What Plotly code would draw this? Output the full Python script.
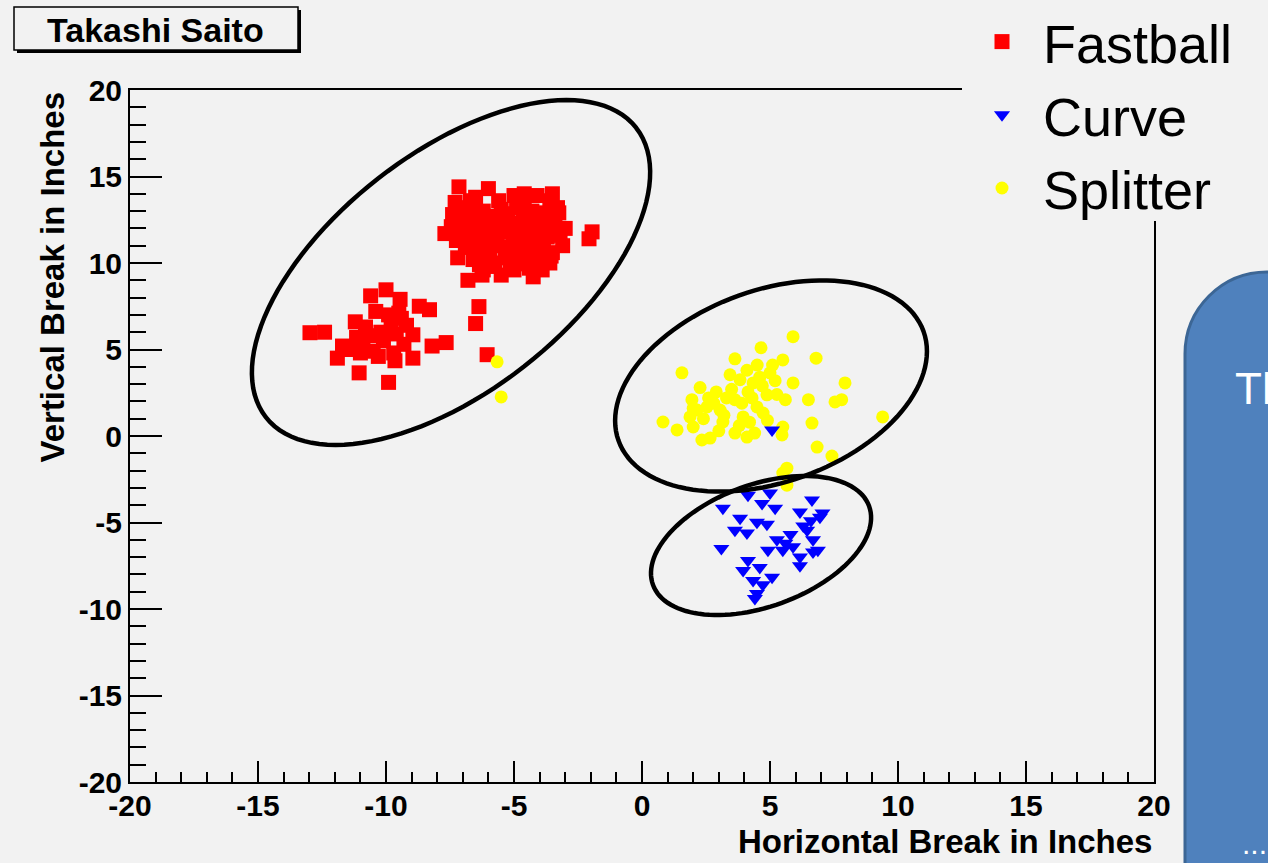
import math
import plotly.graph_objects as go

# ---------------- data ----------------
fast_x = [-7.15, -6.0, -3.5, -4.1, -5.0, -6.5, -7.3, -7.4, -7.7, -3.2, -1.95, -2.07, -7.2, -6.8,
          -6.25, -5.5, -4.25, -3.9, -3.5, -3.4, -3.3, -4.6, -5.6,
          -6.8, -6.2, -5.5, -4.9, -4.3, -3.8,
          -7.0, -6.5, -5.9, -5.3, -4.7, -4.1, -3.6,
          -7.1, -6.6, -6.0, -5.4, -4.8, -4.2, -3.7,
          -6.9, -6.3, -5.7, -5.1, -4.5, -3.9,
          -6.6, -6.0, -5.3, -4.7, -4.1, -3.6,
          -6.2, -5.0, -4.4, -5.8,
          -5.6, -5.0, -4.5, -6.4, -3.9, -5.2, -4.6, -6.7, -3.6, -3.0, -3.1,
          -6.95, -6.45, -5.85, -5.25, -4.65, -4.05, -3.45,
          -6.75, -6.15, -5.55, -4.95, -4.35, -3.75, -3.25,
          -6.85, -6.25, -5.65, -5.05, -4.45, -3.85, -3.35,
          -6.55, -5.95, -5.35, -4.75, -4.15, -3.55,
          -6.35, -5.75, -5.15, -4.55, -3.95, -7.45, -7.25,
          -12.97, -12.4, -11.9, -11.7, -11.05, -9.9, -10.6, -10.0, -9.45, -8.7, -8.3, -8.95,
          -8.95, -9.65, -8.2, -7.65, -11.2, -11.15, -10.5, -9.8, -9.5, -10.8, -10.3, -11.4,
          -10.1, -9.3, -10.4, -9.9, -9.2, -10.9, -10.2, -9.6, -11.0, -9.7, -10.6, -9.4,
          -6.37, -6.5, -6.05]
fast_y = [14.4, 14.3, 14.0, 13.9, 13.9, 13.8, 13.5, 12.8, 11.7, 11.8, 11.8, 11.4, 10.3, 9.0,
          9.3, 9.3, 9.2, 9.6, 10.6, 12.5, 13.2, 14.0, 13.6,
          13.2, 13.0, 13.1, 13.2, 13.0, 12.9,
          12.3, 12.4, 12.2, 12.5, 12.3, 12.4, 12.2,
          11.6, 11.7, 11.5, 11.8, 11.6, 11.7, 11.5,
          10.9, 10.8, 11.0, 10.9, 10.8, 10.9,
          10.2, 10.1, 10.3, 10.1, 10.3, 10.0,
          9.6, 9.6, 9.7, 9.8,
          12.0, 11.3, 12.8, 11.2, 11.2, 10.6, 13.5, 13.6, 13.6, 12.0, 11.0,
          12.75, 12.8, 12.7, 12.85, 12.7, 12.75, 12.7,
          11.95, 12.0, 11.9, 12.05, 11.95, 12.0, 12.9,
          11.15, 11.2, 11.25, 11.15, 11.2, 11.15, 11.6,
          10.45, 10.5, 10.5, 10.45, 10.5, 10.4,
          9.9, 10.0, 9.8, 9.95, 9.7, 12.1, 11.3,
          5.97, 6.0, 4.5, 5.2, 3.65, 3.1, 8.1, 8.45, 7.9, 7.5, 7.3, 5.85,
          4.5, 4.35, 5.2, 5.4, 6.6, 5.7, 4.9, 6.3, 7.1, 6.3, 4.6, 5.0,
          5.5, 5.3, 7.2, 7.0, 6.4, 5.4, 6.0, 5.9, 4.8, 4.8, 5.8, 6.8,
          7.48, 6.5, 4.7]

curve_x = [4.14, 5.0, 3.16, 4.69, 5.2, 6.64, 3.83, 4.49, 4.88, 6.17, 6.95, 7.05, 3.63, 4.1,
           3.1, 5.27, 5.8, 6.45, 6.68, 4.92, 5.5, 6.17, 6.68, 6.87, 4.14, 6.17, 3.95, 4.6,
           5.08, 4.34, 4.49, 4.72, 4.41, 5.6, 6.3, 6.6, 5.9, 5.08]
curve_y = [-3.42, -3.3, -4.17, -3.9, -4.17, -3.7, -4.75, -4.99, -5.1, -4.4, -4.7, -4.45, -5.45, -5.6,
           -6.5, -6.0, -5.7, -5.45, -6.0, -6.6, -6.6, -7.0, -6.7, -6.6, -7.2, -7.5, -7.77, -7.6,
           -8.17, -8.35, -9.1, -8.6, -9.4, -6.2, -5.2, -4.9, -6.4, 0.35]

split_x = [-5.66, -5.5, 5.9, 4.65, 3.63, 6.8, 1.56, 5.5, 4.5, 5.1, 4.1, 5.9, 7.93, 2.27, 2.9,
           4.14, 6.5, 7.54, 7.8, 9.4, 1.95, 5.27, 5.6, 0.82, 1.37, 2.0, 2.34, 2.66, 3.16,
           3.63, 4.1, 4.4, 4.73, 5.5, 5.47, 6.64, 6.84, 7.42, 5.66, 5.5, 3.05, 2.54, 3.63,
           3.44, 3.83, 4.34, 5.0, 4.88, 4.49, 3.95, 1.875, 2.15, 5.66, 3.3, 2.6, 4.9, 3.8,
           2.8, 3.2, 3.9, 4.3, 4.7, 5.2, 2.4, 3.5, 4.2, 3.0, 2.0, 4.6]
split_y = [4.29, 2.26, 5.74, 5.1, 4.46, 4.5, 3.65, 4.4, 4.1, 4.1, 3.8, 3.07, 3.07, 2.8, 2.55,
           2.55, 2.1, 1.97, 2.1, 1.1, 2.1, 2.4, 2.1, 0.81, 0.35, 0.52, -0.23, -0.12, 0.81,
           0.17, -0.06, 0.17, 1.33, 0.52, 0.06, 0.75, -0.64, -1.16, -1.86, -2.14, 1.5, 1.68, 2.1,
           3.54, 3.25, 3.07, 3.65, 2.38, 1.68, 1.1, 1.1, 1.5, -2.84, 2.2, 2.2, 0.9, 0.6,
           1.9, 1.2, 1.9, 2.2, 2.9, 3.2, 1.0, 2.7, 0.8, 0.3, 1.6, 3.4]

series_names = ["Fastball", "Curve", "Splitter"]
axis_range = [-20, 20]
major_ticks = [-20, -15, -10, -5, 0, 5, 10, 15, 20]
tick_labels = ["-20", "-15", "-10", "-5", "0", "5", "10", "15", "20"]

# ellipse outlines: centre (data), semi-axes (px), rotation (deg)
ell_cx = [-7.46, 5.04, 4.65]
ell_cy = [9.45, 2.89, -6.33]
ell_a = [235, 162, 115]
ell_b = [119, 96, 61]
ell_rot = [38, 19.7, 20]

# ---------------- layout geometry ----------------
W, H = 1268, 863
ML, MR, MT, MB = 130, 114, 90, 81
PW, PH = W - ML - MR, H - MT - MB
FONT = "Liberation Sans, Arial, Helvetica, sans-serif"
BG = "#f2f2f2"

def pp(px, py):
    """page pixel -> paper coordinate"""
    return (px - ML) / PW, (H - MB - py) / PH

sx = PW / (axis_range[1] - axis_range[0])
sy = PH / (axis_range[1] - axis_range[0])

fig = go.Figure()
fig.add_trace(go.Scatter(x=fast_x, y=fast_y, mode="markers", name=series_names[0],
                         marker=dict(symbol="square", size=15, color="#ff0000"), legendrank=1))
fig.add_trace(go.Scatter(x=split_x, y=split_y, mode="markers", name=series_names[2],
                         marker=dict(symbol="circle", size=13, color="#ffff00"), legendrank=3))
fig.add_trace(go.Scatter(x=curve_x, y=curve_y, mode="markers", name=series_names[1],
                         marker=dict(symbol="triangle-down", size=14, color="#0000ff"), legendrank=2))

shapes = []
# ellipses
for cx, cy, a, b, rot in zip(ell_cx, ell_cy, ell_a, ell_b, ell_rot):
    th = math.radians(rot)
    pts = []
    for i in range(121):
        t = 2 * math.pi * i / 120
        dx = a * math.cos(t) * math.cos(th) - b * math.sin(t) * math.sin(th)
        dy = a * math.cos(t) * math.sin(th) + b * math.sin(t) * math.cos(th)
        pts.append((cx + dx / sx, cy + dy / sy))
    path = "M " + " L ".join(f"{x:.4f},{y:.4f}" for x, y in pts) + " Z"
    shapes.append(dict(type="path", path=path, xref="x", yref="y",
                       line=dict(color="black", width=4.5), layer="above"))

# cover of the frame corner behind the legend
x0, y0 = pp(962, 221)
x1, y1 = pp(W + 10, -10)
shapes.append(dict(type="rect", xref="paper", yref="paper", x0=x0, y0=y0, x1=x1, y1=y1,
                   fillcolor=BG, line=dict(width=0), layer="above"))

# title box with shadow
for off, fill, lw in [(3, "black", 0), (0, BG, 1.5)]:
    a0 = pp(14 + off, 7 + off)
    a1 = pp(298 + off, 50 + off)
    shapes.append(dict(type="rect", xref="paper", yref="paper", x0=a0[0], y0=a1[1], x1=a1[0], y1=a0[1],
                       fillcolor=fill, line=dict(color="black", width=lw), layer="above"))

# blue rounded panel on the right edge (partly outside the page)
r = 82
k = 0.5523
bx0, by0, bx1, by1 = 1185, 272, 1320, 900
pts = [("M", [(bx0, by1)]), ("L", [(bx0, by0 + r)]),
       ("C", [(bx0, by0 + r - k * r), (bx0 + r - k * r, by0), (bx0 + r, by0)]),
       ("L", [(bx1, by0)]), ("L", [(bx1, by1)])]
path = ""
for cmd, plist in pts:
    path += cmd + " " + " ".join("{:.5f},{:.5f}".format(*pp(px, py)) for px, py in plist) + " "
path += "Z"
shapes.append(dict(type="path", path=path, xref="paper", yref="paper",
                   fillcolor="#4f81bd", line=dict(color="#3c6695", width=3), layer="above"))

annotations = [
    dict(text="<b>Takashi Saito</b>", x=pp(155, 0)[0], y=pp(0, 30)[1], xref="paper", yref="paper",
         showarrow=False, font=dict(family=FONT, size=34, color="black"), xanchor="center", yanchor="middle"),
    dict(text="<b>Horizontal Break in Inches</b>", x=1.0, y=pp(0, 842)[1], xref="paper", yref="paper",
         showarrow=False, font=dict(family=FONT, size=33, color="black"), xanchor="right", yanchor="middle"),
    dict(text="<b>Vertical Break in Inches</b>", x=pp(52, 0)[0], y=pp(0, 90)[1], xref="paper", yref="paper",
         showarrow=False, textangle=-90, font=dict(family=FONT, size=33, color="black"),
         xanchor="center", yanchor="top"),
    dict(text="The", x=pp(1233, 0)[0], y=pp(0, 388)[1], xref="paper", yref="paper",
         showarrow=False, font=dict(family=FONT, size=44, color="white"), xanchor="left", yanchor="middle"),
    dict(text="...", x=pp(1240, 0)[0], y=pp(0, 843)[1], xref="paper", yref="paper",
         showarrow=False, font=dict(family=FONT, size=30, color="white"), xanchor="left", yanchor="middle"),
]

axis_common = dict(range=axis_range, showgrid=False, zeroline=False, showline=True, mirror=True,
                   linecolor="black", linewidth=2, ticks="inside", tickcolor="black", tickwidth=2,
                   tickvals=major_ticks, ticktext=tick_labels,
                   tickfont=dict(family=FONT, size=30, color="black", weight="bold"))

fig.update_layout(
    width=W, height=H, autosize=False,
    margin=dict(l=ML, r=MR, t=MT, b=MB, pad=0, autoexpand=False),
    paper_bgcolor=BG, plot_bgcolor=BG,
    xaxis=dict(**axis_common, ticklen=21, ticklabelstandoff=-4,
               minor=dict(ticks="inside", ticklen=10, dtick=1, tickcolor="black", tickwidth=2, showgrid=False)),
    yaxis=dict(**axis_common, ticklen=32,
               minor=dict(ticks="inside", ticklen=16, dtick=1, tickcolor="black", tickwidth=2, showgrid=False)),
    legend=dict(x=pp(961, 0)[0], y=pp(0, 0)[1], xanchor="left", yanchor="top",
                bgcolor="rgba(0,0,0,0)", borderwidth=0, itemclick=False, itemwidth=72,
                font=dict(family=FONT, size=54, color="black"), tracegroupgap=0),
    showlegend=True,
    shapes=shapes,
    annotations=annotations,
)

fig.write_html("out.html", config={"displayModeBar": False},
               post_script="document.body.style.margin='0';document.body.style.overflow='hidden';")
